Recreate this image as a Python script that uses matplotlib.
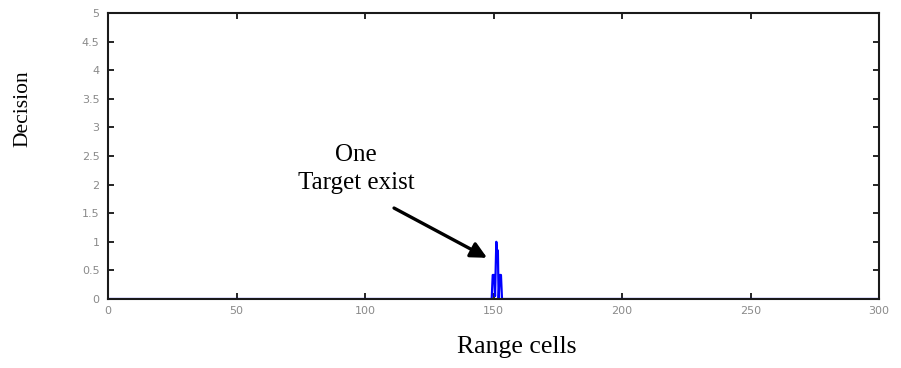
import numpy as np
import matplotlib
matplotlib.use("Agg")
import matplotlib.pyplot as plt

# Data
pulse_cells = [149.3, 149.7, 150.3, 150.6, 151.1, 151.3, 151.7, 152.0, 152.4, 152.9, 153.3]
pulse_values = [0.0, 0.42, 0.42, 0.05, 1.0, 0.85, 0.85, 0.0, 0.42, 0.42, 0.0]
range_start, range_end = 0, 300
xticks = [0, 50, 100, 150, 200, 250, 300]
xticklabels = ["0", "50", "100", "150", "200", "250", "300"]
yticks = [0, 0.5, 1, 1.5, 2, 2.5, 3, 3.5, 4, 4.5, 5]
yticklabels = ["0", "0.5", "1", "1.5", "2", "2.5", "3", "3.5", "4", "4.5", "5"]

cells = [range_start] + pulse_cells + [range_end]
decision = [0.0] + pulse_values + [0.0]

fig = plt.figure(figsize=(9.01, 3.68), dpi=100)
ax = fig.add_axes([108/901, 1-299/368, (879-108)/901, (299-13)/368])

ax.plot(cells, decision, color="#0000ff", lw=1.6, zorder=2)

ax.set_xlim(0, 300)
ax.set_ylim(0, 5)
ax.set_xticks(xticks)
ax.set_xticklabels(xticklabels)
ax.set_yticks(yticks)
ax.set_yticklabels(yticklabels)
ax.tick_params(direction="in", length=4, width=1.2, top=True, right=True,
               labelsize=8, labelcolor="#8a8a8a")
ax.tick_params(axis="x", pad=5)
ax.tick_params(axis="y", pad=6)
for s in ax.spines.values():
    s.set_linewidth(1.5)
    s.set_color("#1a1a1a")
    s.set_zorder(3)

serif = ["Liberation Serif", "DejaVu Serif"]
fig.text(23/901, 1-109/368, "Decision", rotation=90, ha="center", va="center",
         family=serif, fontsize=15.5)
fig.text(517/901, 1-347/368, "Range cells", ha="center", va="center",
         family=serif, fontsize=18.5)

ax.text(96.5, 2.27, "One\nTarget exist", ha="center", va="center",
        family=serif, fontsize=18, linespacing=1.35)
ax.annotate("", xy=(147.5, 0.72), xytext=(111.3, 1.59),
            arrowprops=dict(arrowstyle="-|>", lw=2.4, color="black",
                            mutation_scale=24, shrinkA=0, shrinkB=0))

fig.savefig("out.png", dpi=100)
